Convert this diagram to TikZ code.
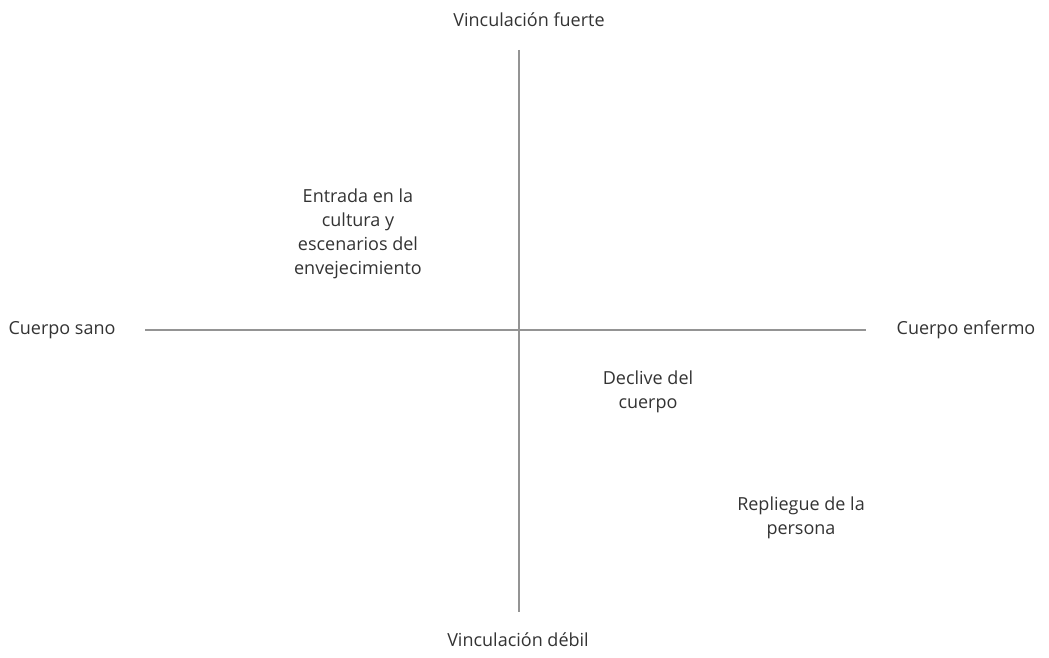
\documentclass[tikz,border=0pt]{standalone}
\usepackage{fontspec}
\setmainfont{Open Sans}
\begin{document}
\begin{tikzpicture}[x=1pt,y=-1pt,
  lbl/.style={font=\fontsize{18}{24}\selectfont, text=black!80, align=center, inner sep=0pt},
  axis/.style={draw=black!42, line width=2.8pt}]
\useasboundingbox (0,0) rectangle (1049,658);
\coordinate (top) at (519,50);
\coordinate (bot) at (519,612);
\coordinate (lft) at (145,330);
\coordinate (rgt) at (866,330);
\draw[axis] (top) -- (bot);
\draw[axis] (lft) -- (rgt);
\node[lbl] (vf) at (529,20) {Vinculación fuerte};
\node[lbl] (vd) at (518,640) {Vinculación débil};
\node[lbl] (cs) at (62,330) {Cuerpo sano};
\node[lbl] (ce) at (966,330) {Cuerpo enfermo};
\node[lbl] (en) at (358,234) {Entrada en la\\cultura y\\escenarios del\\envejecimiento};
\node[lbl] (dc) at (648,392) {Declive del\\cuerpo};
\node[lbl] (rp) at (801,518) {Repliegue de la\\persona};
\end{tikzpicture}
\end{document}
